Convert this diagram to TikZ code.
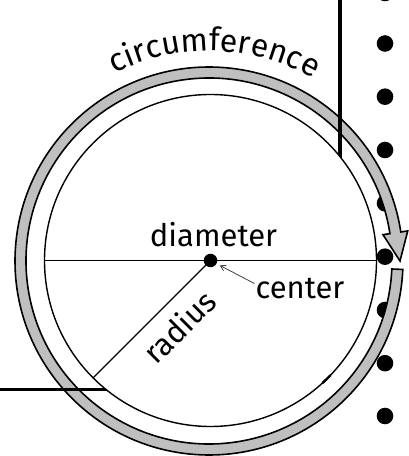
\documentclass[tikz,border=0pt]{standalone}
\usepackage{fontspec}
\newfontfamily\handfont{Fira Sans}
\usetikzlibrary{decorations.text,arrows.meta}
\begin{document}
\begin{tikzpicture}[x=1pt,y=1pt,
  ringstyle/.style={fill=gray!50, draw=black, line width=1.6pt, line join=miter},
  frameline/.style={line width=3.6pt},
  dotstyle/.style={circle, fill=black, inner sep=0pt, minimum size=16.6pt},
  handtext/.style={font=\handfont\fontsize{31}{34}\selectfont, inner sep=0pt},
  thinline/.style={line width=1.3pt},
  ptr/.style={draw=black!75, line width=0.8pt, -{Straight Barb[length=5pt,width=6pt]}}]
\useasboundingbox (0,0) rectangle (409,456);
% notebook dots
\foreach \py [count=\i] in {-7,43.5,96.7,150,203.3,256.7,310,363.2,416}
  \node[dotstyle] (dot\i) at (385,{456-\py}) {};
% circumference ring with arrow
\path[ringstyle]
  ([shift={(209,195)}]-2.5:194) arc[start angle=-2.5, end angle=-351.4, radius=194]
  -- ([shift={(209,195)}]-351.4:201)
  -- ([shift={(209,195)}]-360:191)
  -- ([shift={(209,195)}]-351.4:176)
  -- ([shift={(209,195)}]-351.4:183)
  arc[start angle=-351.4, end angle=-2.5, radius=183] -- cycle;
% frame lines
\coordinate (ftop) at (340,456);
\coordinate (fleft) at (0,66.5);
\draw[frameline] (ftop) -- (340,250);
\draw[frameline] (fleft) -- (160,66.5);
% inner circle
\node[circle, draw=black, fill=white, line width=1.4pt, minimum size=332pt, inner sep=0pt] (C) at (210.5,195.5) {};
\draw[line width=2.4pt, line cap=round] ([shift={(210.5,195.5)}]-47.5:166) arc[start angle=-47.5, end angle=-43.8, radius=166];
% diameter and radius
\draw[thinline] (C.west) -- (C.east);
\draw[thinline] (C.center) -- (C.225);
\node[circle, fill=black, inner sep=0pt, minimum size=13.5pt] (ctr) at (C.center) {};
% labels
\node[handtext, anchor=base] (ldiam) at (213.5,209) {diameter};
\node[handtext, anchor=base] (lcent) at (300,157) {center};
\node[handtext, rotate=45] (lrad) at (179,129.5) {radius};
\draw[ptr, shorten >=3.5pt] ([xshift=-1pt,yshift=5.5pt]lcent.west) -- (ctr);
\path[decorate, decoration={text along path, text={|\handfont\fontsize{32}{36}\selectfont|circumference}, text align=center}]
  ([shift={(209,195)}]120:210) arc[start angle=120, end angle=57, radius=210];
\end{tikzpicture}
\end{document}
